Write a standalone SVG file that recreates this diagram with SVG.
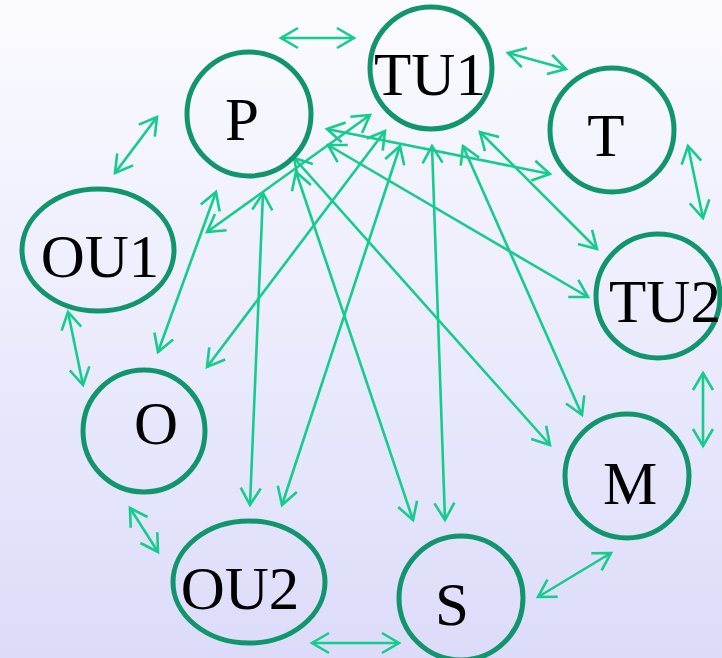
<svg xmlns="http://www.w3.org/2000/svg" width="722" height="658" viewBox="0 0 722 658">
<defs>
<linearGradient id="bg" x1="0" y1="0" x2="0" y2="1">
<stop offset="0" stop-color="#fbfbff"/>
<stop offset="1" stop-color="#dcdcfa"/>
</linearGradient>
<marker id="ah" markerUnits="userSpaceOnUse" markerWidth="24" markerHeight="24" viewBox="-20 -12 24 24" refX="0" refY="0" orient="auto-start-reverse">
<path d="M-17,-10 L0,0 L-17,10" fill="none" stroke="#14cc8c" stroke-width="2.6" stroke-linejoin="miter"/>
</marker>
</defs>
<style>
.n{fill:none;stroke:#11956c;stroke-width:5}
.t{font-family:"Liberation Serif","Times New Roman",serif;font-size:61px;fill:#000;text-anchor:middle}
.e line{stroke:#14cc8c;stroke-width:2.6;marker-start:url(#ah);marker-end:url(#ah)}
</style>
<rect width="722" height="658" fill="url(#bg)"/>
<g id="connectors" class="e">
<line x1="281" y1="38" x2="354" y2="38"/>
<line x1="508" y1="53" x2="566" y2="69"/>
<line x1="688" y1="146" x2="703" y2="218"/>
<line x1="703" y1="373" x2="703" y2="446"/>
<line x1="611" y1="553" x2="538" y2="597"/>
<line x1="399" y1="643" x2="312" y2="643"/>
<line x1="158" y1="552" x2="130" y2="508"/>
<line x1="83" y1="385" x2="68" y2="312"/>
<line x1="115" y1="173" x2="157" y2="117"/>
<line x1="216" y1="192" x2="158" y2="352"/>
<line x1="263" y1="193" x2="250" y2="505"/>
<line x1="296" y1="172" x2="413" y2="520"/>
<line x1="294" y1="158" x2="550" y2="445"/>
<line x1="328" y1="145" x2="588" y2="297"/>
<line x1="327" y1="129" x2="550" y2="174"/>
<line x1="370" y1="115" x2="207" y2="232"/>
<line x1="385" y1="131" x2="207" y2="367"/>
<line x1="400" y1="146" x2="282" y2="505"/>
<line x1="432" y1="146" x2="445" y2="520"/>
<line x1="463" y1="146" x2="582" y2="415"/>
<line x1="480" y1="132" x2="597" y2="249"/>
</g>
<g id="TU1"><circle class="n" cx="431" cy="68" r="61"/><text class="t" x="430" y="95">TU1</text></g>
<g id="P"><circle class="n" cx="249" cy="114" r="62"/><text class="t" x="242" y="140">P</text></g>
<g id="T"><circle class="n" cx="612" cy="130" r="62"/><text class="t" x="606" y="156">T</text></g>
<g id="OU1"><ellipse class="n" cx="98" cy="250" rx="76" ry="61"/><text class="t" x="100" y="277">OU1</text></g>
<g id="O"><circle class="n" cx="144" cy="431" r="61"/><text class="t" x="156" y="444">O</text></g>
<g id="TU2"><circle class="n" cx="658" cy="296" r="62"/><text class="t" x="665" y="322">TU2</text></g>
<g id="M"><circle class="n" cx="627" cy="476" r="62"/><text class="t" x="630" y="504">M</text></g>
<g id="OU2"><ellipse class="n" cx="249" cy="582" rx="76" ry="61"/><text class="t" x="240" y="609">OU2</text></g>
<g id="S"><circle class="n" cx="461" cy="598" r="62"/><text class="t" x="452" y="625">S</text></g>
</svg>
